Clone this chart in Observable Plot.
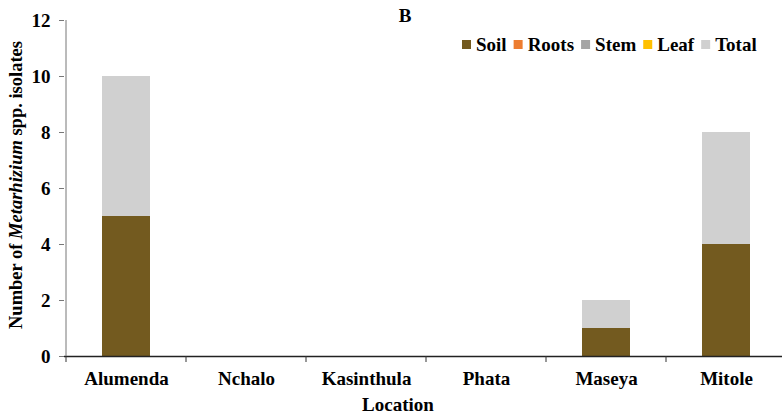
<!DOCTYPE html>
<html>
<head>
<meta charset="utf-8">
<script src="https://cdn.jsdelivr.net/npm/d3@7"></script>
<script src="https://cdn.jsdelivr.net/npm/@observablehq/plot@0.6"></script>
<style>
  html, body { margin: 0; padding: 0; background: #fff; }
  #chart svg { display: block; }
</style>
</head>
<body>
<div id="chart"></div>
<script>
// Metarhizium isolates per location, split by source
const locations = ["Alumenda", "Nchalo", "Kasinthula", "Phata", "Maseya", "Mitole"];
const series = ["Soil", "Roots", "Stem", "Leaf", "Total"];
const soil  = [5, 0, 0, 0, 1, 4];
const roots = [0, 0, 0, 0, 0, 0];
const stem  = [0, 0, 0, 0, 0, 0];
const leaf  = [0, 0, 0, 0, 0, 0];
const total = [5, 0, 0, 0, 1, 4];
const seriesColors = ["#735a1f", "#ed7d31", "#a5a5a5", "#ffc000", "#d0d0d0"];
const yTicks = [0, 2, 4, 6, 8, 10, 12];

const valuesBySeries = [soil, roots, stem, leaf, total];
const rows = [];
series.forEach((s, si) => {
  locations.forEach((loc, li) => {
    rows.push({ location: loc, series: s, value: valuesBySeries[si][li] });
  });
});

const W = 782, H = 418;
const FONT = "'Liberation Serif', 'Times New Roman', serif";
const FS = 19;

const chart = Plot.plot({
  width: W,
  height: H,
  marginTop: 20,
  marginBottom: 62,
  marginLeft: 64,
  marginRight: -5,
  style: { fontFamily: FONT, fontSize: FS + "px", fontWeight: "bold", color: "#000", background: "#fff", overflow: "visible" },
  x: { domain: locations, paddingInner: 0.6, paddingOuter: 0.3, label: null },
  y: { domain: [0, 12], ticks: yTicks, label: null },
  color: { domain: series, range: seriesColors },
  marks: [
    Plot.barY(rows, { x: "location", y: "value", fill: "series", order: series }),
    Plot.ruleY([0], { stroke: "#222", strokeWidth: 1.3 }),
    Plot.axisY({ ticks: yTicks, tickSize: 5, tickPadding: 9, stroke: "#777", label: null }),
    Plot.axisX({ tickSize: 0, tickPadding: 15, label: null })
  ]
});

document.getElementById("chart").appendChild(chart);

const svg = d3.select(chart);
const xs = chart.scale("x");
const ys = chart.scale("y");
const y0 = ys.apply(0), yTop = ys.apply(12);
const left = xs.apply(locations[0]) - (xs.step - xs.bandwidth) / 2;

// y axis line
svg.append("line")
  .attr("x1", left).attr("x2", left)
  .attr("y1", yTop).attr("y2", y0)
  .attr("stroke", "#777");

// category boundary ticks below the baseline
svg.append("g").selectAll("line")
  .data(locations)
  .join("line")
  .attr("x1", d => xs.apply(d) - (xs.step - xs.bandwidth) / 2)
  .attr("x2", d => xs.apply(d) - (xs.step - xs.bandwidth) / 2)
  .attr("y1", y0).attr("y2", y0 + 6)
  .attr("stroke", "#333");

// panel letter
svg.append("text")
  .attr("x", 405).attr("y", 22)
  .attr("text-anchor", "middle")
  .attr("font-family", FONT).attr("font-size", FS).attr("font-weight", "bold")
  .text("B");

// x axis title
svg.append("text")
  .attr("x", 398).attr("y", 411)
  .attr("text-anchor", "middle")
  .attr("font-family", FONT).attr("font-size", FS).attr("font-weight", "bold")
  .text("Location");

// y axis title with italic genus name
const yt = svg.append("text")
  .attr("transform", `translate(22, ${(yTop + y0) / 2 - 3}) rotate(-90)`)
  .attr("text-anchor", "middle")
  .attr("font-family", FONT).attr("font-size", 18.5).attr("font-weight", "bold");
yt.append("tspan").text("Number of ");
yt.append("tspan").attr("font-style", "italic").text("Metarhizium");
yt.append("tspan").text(" spp. isolates");

// legend
const legend = svg.append("g")
  .attr("font-family", FONT).attr("font-size", FS).attr("font-weight", "bold")
  .attr("text-anchor", "start");
let lx = 462;
series.forEach((s, i) => {
  legend.append("rect")
    .attr("x", lx).attr("y", 40).attr("width", 9).attr("height", 9)
    .attr("fill", seriesColors[i]);
  const t = legend.append("text")
    .attr("x", lx + 14).attr("y", 51)
    .text(s);
  lx += 14 + t.node().getComputedTextLength() + 7;
});
</script>
</body>
</html>
